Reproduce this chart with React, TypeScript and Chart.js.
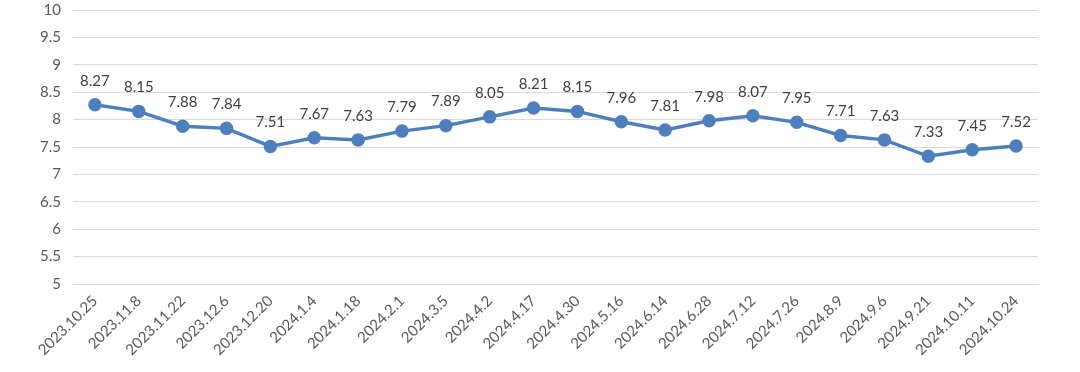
import React, { useEffect, useRef } from "react";
import { Chart, registerables } from "chart.js";

Chart.register(...registerables);

const categories = [
  "2023.10.25", "2023.11.8", "2023.11.22", "2023.12.6", "2023.12.20",
  "2024.1.4", "2024.1.18", "2024.2.1", "2024.3.5", "2024.4.2", "2024.4.17",
  "2024.4.30", "2024.5.16", "2024.6.14", "2024.6.28", "2024.7.12",
  "2024.7.26", "2024.8.9", "2024.9.6", "2024.9.21", "2024.10.11", "2024.10.24",
];
const values = [
  8.27, 8.15, 7.88, 7.84, 7.51, 7.67, 7.63, 7.79, 7.89, 8.05, 8.21,
  8.15, 7.96, 7.81, 7.98, 8.07, 7.95, 7.71, 7.63, 7.33, 7.45, 7.52,
];
const yMin = 5;
const yMax = 10;
const yStep = 0.5;

const FONT = "Lato, 'Liberation Sans', sans-serif";

const labelPlugin = {
  id: "valueLabels",
  afterDatasetsDraw(chart: any) {
    const ctx = chart.ctx;
    const meta = chart.getDatasetMeta(0);
    ctx.save();
    ctx.font = `15px ${FONT}`;
    ctx.fillStyle = "#404040";
    ctx.textAlign = "center";
    ctx.textBaseline = "middle";
    meta.data.forEach((pt: any, i: number) => {
      ctx.fillText(values[i].toFixed(2), pt.x, pt.y - 24);
    });
    ctx.restore();
  },
};

export default function App() {
  const ref = useRef<HTMLCanvasElement | null>(null);
  useEffect(() => {
    if (!ref.current) return;
    const chart = new Chart(ref.current, {
      type: "line",
      data: {
        labels: categories,
        datasets: [
          {
            data: values,
            borderColor: "#4e7fbd",
            backgroundColor: "#4e7fbd",
            borderWidth: 3.5,
            pointRadius: 5,
            pointBackgroundColor: "#4e7fbd",
            pointBorderColor: "#4e7fbd",
            tension: 0,
          },
        ],
      },
      options: {
        animation: false,
        responsive: false,
        layout: { padding: { top: 0, right: 42, left: 0, bottom: 0 } },
        plugins: { legend: { display: false }, tooltip: { enabled: false } },
        scales: {
          x: {
            offset: true,
            grid: { display: false },
            border: { display: false },
            ticks: {
              maxRotation: 45,
              minRotation: 45,
              color: "#595959",
              font: { family: FONT, size: 15 },
              padding: 0,
              autoSkip: false,
            },
            afterFit: (s: any) => { s.height = 88; },
          },
          y: {
            min: yMin,
            max: yMax,
            ticks: {
              stepSize: yStep,
              color: "#595959",
              font: { family: FONT, size: 15 },
              padding: 12,
              callback: (v: any) => String(Number(v)),
            },
            grid: { color: "#d9d9d9", lineWidth: 1, drawTicks: false },
            border: { display: false },
            afterFit: (s: any) => { s.width = 73; },
          },
        },
      },
      plugins: [labelPlugin],
    });
    return () => chart.destroy();
  }, []);
  return (
    <div style={{ position: "fixed", left: 0, top: 0, width: 1080, height: 372, overflow: "hidden", background: "#fff" }}>
      <canvas ref={ref} width={1080} height={383} style={{ display: "block", marginTop: -11 }} />
    </div>
  );
}
